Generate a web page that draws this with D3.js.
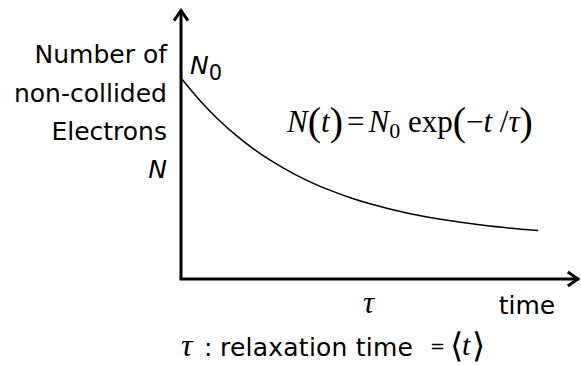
<!DOCTYPE html>
<html>
<head>
<meta charset="utf-8">
<script src="https://cdn.jsdelivr.net/npm/d3@7"></script>
<style>
  body { margin: 0; background: #fff; }
  .sans { font-family: "DejaVu Sans", Verdana, sans-serif; }
  .serif { font-family: "Liberation Serif", "Times New Roman", serif; }
</style>
</head>
<body>
<div id="chart"></div>
<script>
// t in units of tau, N in units of N0
const tValues = [0, 0.1, 0.2, 0.3, 0.4, 0.5, 0.6, 0.7, 0.8, 0.9, 1.0, 1.2, 1.4, 1.6, 1.8, 1.89];
const nValues = [1.000, 0.888, 0.791, 0.708, 0.636, 0.575, 0.522, 0.476, 0.437, 0.403, 0.374, 0.327, 0.293, 0.267, 0.248, 0.241];
const xTickValues = [1];
const xTickLabels = ["τ"];
const yLabelLines = ["Number of", "non-collided", "Electrons"];

const width = 581, height = 365;

const svg = d3.select("#chart")
    .append("svg")
    .attr("width", width)
    .attr("height", height);

// scales
const x = d3.scaleLinear().domain([0, 2]).range([181, 559]);
const y = d3.scaleLinear().domain([0, 1]).range([279, 78]);

const xEnd = 2.105, yEnd = 1.34;

// axes lines with open arrow heads
svg.append("line")
    .attr("x1", x(0)).attr("y1", y(0))
    .attr("x2", x(0)).attr("y2", y(yEnd))
    .attr("stroke", "#000").attr("stroke-width", 3);
svg.append("line")
    .attr("x1", x(0) - 1.5).attr("y1", y(0))
    .attr("x2", x(xEnd)).attr("y2", y(0))
    .attr("stroke", "#000").attr("stroke-width", 3);

svg.append("path")
    .attr("d", `M${x(0) - 7},${y(yEnd) + 11} L${x(0)},${y(yEnd) + 1} L${x(0) + 7},${y(yEnd) + 11}`)
    .attr("fill", "none").attr("stroke", "#000").attr("stroke-width", 3);
svg.append("path")
    .attr("d", `M${x(xEnd) - 11},${y(0) - 7} L${x(xEnd) - 1},${y(0)} L${x(xEnd) - 11},${y(0) + 7}`)
    .attr("fill", "none").attr("stroke", "#000").attr("stroke-width", 3);

// decay curve
const data = tValues.map((t, i) => ({ t: t, n: nValues[i] }));
const line = d3.line()
    .x(d => x(d.t))
    .y(d => y(d.n))
    .curve(d3.curveMonotoneX);

svg.append("path")
    .datum(data)
    .attr("d", line)
    .attr("fill", "none")
    .attr("stroke", "#000")
    .attr("stroke-width", 1.5);

// x tick label (tau), no tick marks
const xAxis = d3.axisBottom(x)
    .tickValues(xTickValues)
    .tickFormat((d, i) => xTickLabels[i])
    .tickSize(0)
    .tickPadding(0);

const gx = svg.append("g")
    .attr("transform", `translate(0, ${y(0)})`)
    .call(xAxis);
gx.select(".domain").remove();
gx.selectAll(".tick text")
    .attr("class", "serif")
    .attr("y", 34)
    .attr("dy", 0)
    .attr("x", -2)
    .style("font-size", "31px")
    .style("font-style", "italic")
    .attr("fill", "#000");

svg.append("text")
    .attr("class", "sans")
    .attr("x", 527).attr("y", 314)
    .attr("text-anchor", "middle")
    .style("font-size", "25px")
    .text("time");

// y axis label
svg.selectAll(".ylab")
    .data(yLabelLines)
    .enter()
    .append("text")
    .attr("class", "sans ylab")
    .attr("x", 167)
    .attr("y", (d, i) => 63 + i * 38.5)
    .attr("text-anchor", "end")
    .style("font-size", "25px")
    .text(d => d);

svg.append("text")
    .attr("class", "sans")
    .attr("x", 167).attr("y", 178)
    .attr("text-anchor", "end")
    .style("font-size", "25px")
    .style("font-style", "italic")
    .text("N");

// N0 label
const n0 = svg.append("text")
    .attr("class", "sans")
    .attr("x", 190).attr("y", 74)
    .style("font-size", "25px");
n0.append("tspan").style("font-style", "italic").text("N");
n0.append("tspan").attr("dy", 6).style("font-size", "21px").text("0");

// formula N(t) = N0 exp(-t/tau)
const f = svg.append("text")
    .attr("class", "serif")
    .attr("x", 287).attr("y", 132)
    .style("font-size", "31px");
f.append("tspan").style("font-style", "italic").text("N");
f.append("tspan").attr("dy", 3).style("font-size", "40px").text("(");
f.append("tspan").attr("dy", -3).style("font-style", "italic").text("t");
f.append("tspan").attr("dy", 3).style("font-size", "40px").text(")");
f.append("tspan").attr("dy", -3).attr("dx", 4).text("=");
f.append("tspan").attr("dx", 4).style("font-style", "italic").text("N");
f.append("tspan").attr("dy", 6).style("font-size", "22px").text("0");
f.append("tspan").attr("dy", -6).text(" exp");
f.append("tspan").attr("dy", 3).style("font-size", "40px").text("(");
f.append("tspan").attr("dy", -3).text("−");
f.append("tspan").style("font-style", "italic").text("t");
f.append("tspan").text(" /");
f.append("tspan").style("font-style", "italic").text("τ");
f.append("tspan").attr("dy", 3).style("font-size", "40px").text(")");

// bottom note
const note = svg.append("text")
    .attr("y", 356)
    .style("font-size", "25px");
note.append("tspan").attr("class", "serif").attr("x", 181).style("font-style", "italic").style("font-size", "32px").text("τ");
note.append("tspan").attr("class", "sans").attr("x", 204).text(":");
note.append("tspan").attr("class", "sans").attr("x", 220)
    .attr("textLength", 193).attr("lengthAdjust", "spacing")
    .text("relaxation time");
note.append("tspan").attr("class", "sans").attr("x", 430).attr("dy", -4).style("font-size", "18px").text("=");

const brackets = svg.append("text")
    .attr("class", "serif")
    .attr("y", 357);
brackets.append("tspan").attr("x", 450).style("font-size", "34px").text("⟨");
brackets.append("tspan").attr("x", 462).attr("dy", -2).style("font-size", "30px").style("font-style", "italic").text("t");
brackets.append("tspan").attr("x", 472).attr("dy", 2).style("font-size", "34px").text("⟩");
</script>
</body>
</html>
